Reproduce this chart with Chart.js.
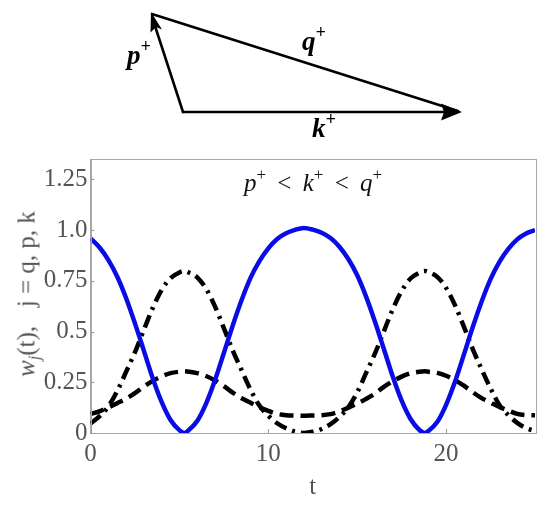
<!DOCTYPE html>
<html>
<head>
<meta charset="utf-8">
<script src="https://cdn.jsdelivr.net/npm/chart.js@4/dist/chart.umd.min.js"></script>
<style>
html,body{margin:0;padding:0;background:#fff;}
#wrap{position:relative;width:550px;height:508px;overflow:hidden;}
#c{position:absolute;left:0;top:0;}
#tri{position:absolute;left:0;top:0;}
.ov{position:absolute;font-family:"Liberation Serif","Times New Roman",serif;white-space:nowrap;line-height:1;}
#ann{left:244px;top:170px;font-size:25px;color:#111;word-spacing:5px;}
#ann sup{font-size:17px;vertical-align:0;position:relative;top:-11px;}
#ytitle{left:26px;top:294px;font-size:25px;color:#555;transform:translate(-50%,-50%) rotate(-90deg);}
#ytitle sub{font-size:16px;vertical-align:0;position:relative;top:5px;}
</style>
</head>
<body>
<div id="wrap">
<canvas id="c" width="550" height="508"></canvas>
<svg id="tri" width="550" height="150" xmlns="http://www.w3.org/2000/svg">
  <g stroke="#000" stroke-width="2.6" fill="none" stroke-linecap="round">
    <line x1="152" y1="14" x2="458" y2="111"/>
    <line x1="183" y1="112" x2="446" y2="112"/>
    <line x1="183" y1="112" x2="155" y2="26"/>
  </g>
  <polygon points="462,112 441,103.5 444,112 441,120.5" fill="#000"/>
  <polygon points="151,12 162,29.5 156,27 150.5,32.5" fill="#000"/>
  <g font-family="Liberation Serif, Times New Roman, serif" font-weight="bold" font-style="italic" fill="#000">
    <text x="127" y="64" font-size="27">p<tspan font-size="18" dy="-12">+</tspan></text>
    <text x="302" y="50" font-size="27">q<tspan font-size="18" dy="-12">+</tspan></text>
    <text x="312" y="137" font-size="27">k<tspan font-size="18" dy="-12">+</tspan></text>
  </g>
</svg>
<div id="ann" class="ov"><i>p</i><sup>+</sup> &lt; <i>k</i><sup>+</sup> &lt; <i>q</i><sup>+</sup></div>
<div id="ytitle" class="ov"><i>w</i><sub><i>j</i></sub>(t),&nbsp;&nbsp; j = q, p, k</div>
</div>
<script>
// ---- data ----
const tValues = [0,0.5,1,1.5,2,2.5,3,3.5,4,4.5,5,5.27,5.5,6,6.5,7,7.5,8,8.5,9,9.5,10,10.5,11,11.5,12,12.5,13,13.5,14,14.5,15,15.5,16,16.5,17,17.5,18,18.5,18.8,19,19.5,20,20.5,21,21.5,22,22.5,23,23.5,24,24.5,25];
// w_q (solid blue)
const wQ = [0.959,0.915,0.853,0.771,0.665,0.540,0.406,0.270,0.153,0.064,0.014,0.000,0.012,0.059,0.145,0.260,0.394,0.530,0.655,0.764,0.847,0.910,0.956,0.984,1.001,1.010,1.002,0.987,0.961,0.918,0.857,0.777,0.672,0.548,0.414,0.278,0.159,0.069,0.015,0.000,0.010,0.054,0.139,0.252,0.386,0.522,0.648,0.758,0.843,0.907,0.954,0.983,1.000];
// w_p (dash-dot)
const wP = [0.046,0.082,0.130,0.206,0.301,0.398,0.508,0.616,0.705,0.763,0.791,0.798,0.792,0.767,0.711,0.624,0.517,0.407,0.309,0.214,0.135,0.085,0.048,0.023,0.007,0.000,0.006,0.020,0.044,0.079,0.127,0.200,0.296,0.392,0.501,0.610,0.700,0.761,0.790,0.798,0.793,0.769,0.715,0.630,0.524,0.413,0.314,0.220,0.138,0.088,0.050,0.024,0.010];
// w_k (dashed)
const wK = [0.093,0.107,0.126,0.147,0.169,0.196,0.229,0.257,0.279,0.295,0.302,0.304,0.302,0.295,0.281,0.259,0.231,0.199,0.171,0.149,0.127,0.109,0.094,0.088,0.0865,0.085,0.0866,0.0878,0.093,0.106,0.125,0.145,0.168,0.194,0.227,0.255,0.278,0.294,0.302,0.304,0.302,0.296,0.282,0.260,0.233,0.201,0.172,0.150,0.128,0.110,0.094,0.088,0.087];
const xTickValues = [0,10,20];
const yTickLabels = ['0','0.25','0.5','0.75','1.0','1.25'];

const toPts = arr => tValues.map((t,i)=>({x:t,y:arr[i]}));
const tickFont = {family:'"Liberation Serif", "Times New Roman", serif', size:25};

const framePlugin = {
  id:'frame',
  afterDraw(chart){
    const {ctx, chartArea:a, scales} = chart;
    ctx.save();
    ctx.strokeStyle = '#a8a8a8';
    ctx.lineWidth = 1;
    ctx.strokeRect(Math.round(a.left)+0.5, Math.round(a.top)+0.5, Math.round(a.right-a.left), Math.round(a.bottom-a.top));
    ctx.strokeStyle = '#999';
    ctx.beginPath();
    scales.x.ticks.forEach(t=>{
      const px = Math.round(scales.x.getPixelForValue(t.value))+0.5;
      ctx.moveTo(px, a.bottom); ctx.lineTo(px, a.bottom-4);
    });
    scales.y.ticks.forEach(t=>{
      const py = Math.round(scales.y.getPixelForValue(t.value))+0.5;
      ctx.moveTo(a.left, py); ctx.lineTo(a.left+4, py);
    });
    ctx.stroke();
    ctx.restore();
  }
};

new Chart(document.getElementById('c'), {
  type:'line',
  data:{datasets:[
    {label:'w_q', data:toPts(wQ), borderColor:'#0a0ce6', borderWidth:4.5, pointRadius:0, cubicInterpolationMode:'monotone', fill:false, clip:0},
    {label:'w_p', data:toPts(wP), borderColor:'#000', borderWidth:4.5, borderDash:[13,6,3,6], pointRadius:0, cubicInterpolationMode:'monotone', fill:false, clip:0},
    {label:'w_k', data:toPts(wK), borderColor:'#000', borderWidth:4.5, borderDash:[14,7], pointRadius:0, cubicInterpolationMode:'monotone', fill:false, clip:0}
  ]},
  options:{
    responsive:false, animation:false, devicePixelRatio:1,
    layout:{padding:{top:159,right:15,left:0,bottom:0}},
    plugins:{legend:{display:false}, tooltip:{enabled:false}},
    scales:{
      x:{type:'linear', min:0, max:25,
        afterBuildTicks:s=>{ s.ticks = xTickValues.map(v=>({value:v})); },
        grid:{display:false, drawTicks:false},
        border:{display:true, color:'#a8a8a8'},
        ticks:{font:tickFont, color:'#555', padding:6, maxRotation:0, autoSkip:false, callback:v=>String(v)},
        title:{display:true, text:'t', font:tickFont, color:'#555', padding:{top:0,bottom:6}},
        afterFit:s=>{ s.height = 75; }
      },
      y:{type:'linear', min:0, max:1.35,
        afterBuildTicks:s=>{ s.ticks = yTickLabels.map(l=>({value:parseFloat(l)})); },
        grid:{display:false, drawTicks:false},
        border:{display:true, color:'#a8a8a8'},
        ticks:{font:tickFont, color:'#555', padding:3, autoSkip:false, callback:(v,i)=>yTickLabels[i]},
        afterFit:s=>{ s.width = 90.5; }
      }
    }
  },
  plugins:[framePlugin]
});
</script>
</body>
</html>
